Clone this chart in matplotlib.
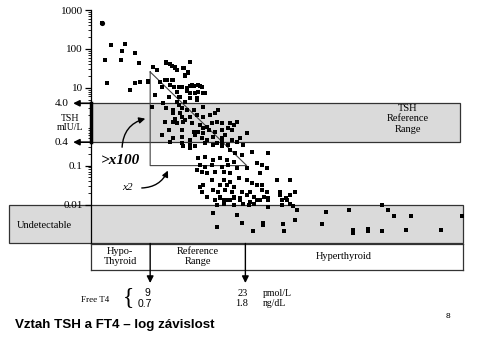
import numpy as np
import matplotlib
matplotlib.use("Agg")
import matplotlib.pyplot as plt
from matplotlib.transforms import blended_transform_factory

# Free T4 (pmol/L) and TSH (mIU/L)
ft4 = [
    1.9, 3.3, 5.3, 4.9, 6.7, 2.4, 4.7, 7.3, 11.4, 11.9, 14.9, 9.4, 10.0, 12.7, 13.0, 14.0, 14.6, 14.1,
    2.7, 6.7, 7.5, 6.1, 8.7, 10.5, 11.5, 12.2, 12.5, 10.7, 13.3, 14.9, 15.4, 16.4, 11.7, 13.2, 14.4,
    16.1, 17.1, 14.9, 15.9,
    11.4, 12.2, 12.7, 13.9, 14.1, 14.6, 8.7, 11.2, 12.4, 11.9, 15.1, 16.1, 16.6, 13.7, 14.4, 15.6,
    12.9, 14.9, 16.8, 9.7, 13.4, 15.9, 14.1, 10.9, 12.9, 13.2, 9.2, 11.4, 12.4, 13.7, 14.4, 15.4,
    16.8, 12.4, 13.4, 12.7, 13.7, 14.1, 14.9, 15.9, 16.8, 17.8, 18.6, 19.0, 11.2, 12.4, 12.9, 13.9,
    15.1, 16.4, 16.8, 17.3, 18.1, 18.8, 19.5, 20.8, 21.8, 21.3, 11.7, 13.7, 15.4, 16.1, 16.8, 17.6,
    18.6, 19.5, 20.5, 21.0, 10.7, 12.4, 13.7, 14.9, 15.6, 16.6, 17.3, 18.3, 19.5, 20.0, 21.0, 22.2,
    23.2, 11.9, 13.7, 14.9, 17.1, 18.8, 19.5, 20.5, 21.8, 22.7,
    13.9, 14.9, 15.6, 18.3, 19.5, 20.8, 21.5, 22.5, 24.0, 26.3, 16.1, 17.1, 18.3, 19.3, 20.3, 21.3,
    24.7, 25.4, 23.2, 16.4, 17.1, 18.1, 19.5, 20.5, 21.8, 15.9, 16.6, 17.3, 18.6, 19.8, 20.8, 25.2,
    26.2, 18.1, 19.8, 20.8, 22.0, 23.2, 27.6, 29.6, 16.4, 16.8, 19.3, 20.3, 21.3, 24.0, 24.7, 25.4,
    16.6, 18.3, 19.0, 20.0, 21.0, 22.5, 23.7, 25.4, 26.2, 28.1, 30.3, 17.3, 19.3, 21.3, 23.2, 24.2,
    25.7, 28.1, 29.6, 18.6, 19.8, 20.8, 22.2, 23.7, 25.2, 26.4, 28.4, 29.1,
    19.3, 20.3, 21.3, 22.2, 24.7, 26.4, 28.9, 18.8, 19.8, 21.3, 22.7, 23.5, 24.2, 26.4, 28.4, 29.6,
    30.0,
    18.3, 18.8, 21.8, 22.5, 24.1, 25.6, 25.6, 28.5, 28.7, 30.3, 30.6, 34.3, 34.8, 38.3, 38.8, 38.8,
    41.1, 41.1, 43.1, 43.9, 44.8, 47.4, 43.1, 46.6, 51.7, 54.8,
]
tsh = [
    471, 128, 134, 90, 77, 52, 52, 43, 47, 41, 47, 35, 29, 35, 28, 32, 26, 20,
    13.1, 13.1, 13.8, 8.8, 15, 14.4, 16, 16, 10.7, 10.7, 10.7, 11.1, 11.1, 11.1, 5.9, 5.7, 8.4,
    7.9, 7.2, 5.4, 5.4,
    43, 36, 32, 32, 21, 24, 14.4, 16, 16, 11.8, 11.8, 11.8, 10.7, 10.7, 9.7, 7.2,
    7.9, 7.2, 7.2, 6.5, 5.9, 4.9, 4.4, 4.0, 4.4, 3.6, 3.3, 3.0, 2.7, 3.0, 2.7, 2.7,
    3.3, 2.2, 2.2, 1.6, 1.8, 1.5, 1.8, 2.0, 1.8, 2.0, 2.2, 2.7, 1.35, 1.35, 1.22, 1.35,
    1.22, 1.1, 0.91, 1.0, 1.22, 1.35, 1.22, 1.22, 1.35, 1.1, 0.82, 0.82, 0.74, 0.74, 0.68, 0.82,
    0.74, 0.82, 0.91, 0.82, 0.61, 0.5, 0.55, 0.45, 0.61, 0.5, 0.45, 0.55, 0.5, 0.61, 0.45, 0.5,
    0.68, 0.41, 0.37, 0.34, 0.37, 0.37, 0.41, 0.34, 0.41, 0.34,
    0.31, 0.28, 0.31, 0.34, 0.31, 0.25, 0.21, 0.19, 0.23, 0.21, 0.154, 0.17, 0.139, 0.154, 0.139, 0.126,
    0.115, 0.104, 0.085, 0.104, 0.094, 0.104, 0.094, 0.104, 0.085, 0.077, 0.070, 0.063, 0.070, 0.070, 0.063, 0.063,
    0.085, 0.043, 0.043, 0.039, 0.047, 0.043, 0.043, 0.043, 0.029, 0.032, 0.032, 0.032, 0.029, 0.035, 0.032, 0.032,
    0.021, 0.024, 0.021, 0.024, 0.021, 0.021, 0.021, 0.024, 0.021, 0.021, 0.021, 0.016, 0.016, 0.016, 0.018, 0.016,
    0.016, 0.018, 0.018, 0.0131, 0.0131, 0.0131, 0.0144, 0.0118, 0.0131, 0.0131, 0.0131, 0.0131,
    0.0144, 0.0131, 0.0144, 0.0131, 0.0131, 0.0144, 0.0144, 0.0097, 0.0103, 0.0097, 0.0103, 0.0097, 0.0103, 0.0088, 0.0097, 0.0103,
    0.0091,
    0.0059, 0.0027, 0.0054, 0.0033, 0.0021, 0.0033, 0.0029, 0.0032, 0.0021, 0.0040, 0.0072, 0.0032, 0.0063, 0.0072, 0.0022, 0.0019,
    0.0024, 0.0021, 0.0097, 0.0072, 0.0051, 0.0052, 0.0021, 0.0022, 0.0022, 0.0052,
]

tsh_ticks = [1000, 100, 10, 0.1, 0.01]
tsh_tick_labels = ["1000", "100", "10", "0.1", "0.01"]
tsh_ref = (0.4, 4.0)
ft4_limits = (9, 23)
categories = ["Hypo-\nThyroid", "Reference\nRange", "Hyperthyroid"]
category_x = [4.6, 16.0, 37.5]

SERIF = ["Liberation Serif", "DejaVu Serif"]
SANS = ["Liberation Sans", "DejaVu Sans"]
GREY = "#dadada"

W, H = 480, 360


def fxy(x, y):
    # pixel position -> figure fraction
    return x / W, 1 - y / H


fig = plt.figure(figsize=(4.8, 3.6), dpi=100)
fig.patch.set_facecolor("white")

ax = fig.add_axes([91 / W, 1 - 243.4 / H, 372 / W, 233.4 / H])
ax.set_yscale("log")
ax.set_xlim(0.3, 55.0)
ax.set_ylim(0.001, 1000)
ax.set_facecolor("none")
for s in ["top", "right", "bottom"]:
    ax.spines[s].set_visible(False)
ax.spines["left"].set_linewidth(0.9)
ax.set_xticks([])
ax.set_yticks(tsh_ticks)
ax.set_yticklabels(tsh_tick_labels, fontfamily=SERIF, fontsize=8)
ax.yaxis.set_minor_locator(matplotlib.ticker.FixedLocator(
    [k * 10.0 ** e for e in range(-2, 3) for k in range(2, 10)]))
ax.yaxis.set_minor_formatter(matplotlib.ticker.NullFormatter())
ax.tick_params(axis="y", which="major", length=4, width=0.9, pad=2)
ax.tick_params(axis="y", which="minor", length=2, width=0.6)

# TSH reference band
ax.axhspan(tsh_ref[0], tsh_ref[1], xmin=0, xmax=0.992, facecolor=GREY,
           edgecolor="#333333", lw=0.9, zorder=0)
ax.plot([0, 0], tsh_ref, color="black", lw=2.5,
        transform=blended_transform_factory(ax.transAxes, ax.transData), clip_on=False)

# undetectable band, reaching out to the left margin
bt = blended_transform_factory(ax.transAxes, ax.transData)
ax.add_patch(plt.Rectangle((-0.22, 0.001), 1.22, 0.009, transform=bt,
                           facecolor=GREY, edgecolor="#333333", lw=0.9,
                           clip_on=False, zorder=0))

# triangle
ax.plot([9, 9, 23.2, 9], [25.6, 0.1, 0.1, 25.6], color="#444444", lw=0.8, zorder=1)

ax.scatter(ft4, tsh, s=6.5, marker="s", color="black", linewidths=0, zorder=3)
ax.scatter(ft4[:1], tsh[:1], s=14, marker="o", color="black", linewidths=0, zorder=3)

# arrows at 4.0 / 0.4
for v in tsh_ref:
    ax.annotate("", xy=(-0.048, v), xytext=(0, v), xycoords=bt, textcoords=bt,
                arrowprops=dict(arrowstyle="-|>", color="black", lw=1.2,
                                mutation_scale=9, shrinkA=0, shrinkB=0),
                annotation_clip=False)
ax.text(-0.06, 4.0, "4.0", transform=bt, ha="right", va="center",
        fontfamily=SERIF, fontsize=8)
ax.text(-0.06, 0.4, "0.4", transform=bt, ha="right", va="center",
        fontfamily=SERIF, fontsize=8)
ax.text(-0.055, 1.25, "TSH\nmIU/L", transform=bt, ha="center", va="center",
        fontfamily=SERIF, fontsize=7, linespacing=1.1)

ax.text(0.852, 1.6, "TSH\nReference\nRange", transform=bt, ha="center", va="center",
        fontfamily=SERIF, fontsize=7.5, linespacing=1.2)
fig.text(*fxy(44, 225), "Undetectable", ha="center", va="center",
         fontfamily=SERIF, fontsize=7.5)

# >x100 and x2 annotations
fig.text(*fxy(120, 160), ">x100", ha="center", va="center", fontfamily=SERIF,
         fontsize=11, fontweight="bold", fontstyle="italic")
fig.text(*fxy(127, 187), "x2", ha="center", va="center", fontfamily=SERIF,
         fontsize=8, fontstyle="italic")
fig.add_artist(matplotlib.patches.FancyArrowPatch(
    fxy(122, 150), fxy(148, 118), transform=fig.transFigure,
    connectionstyle="arc3,rad=-0.4", arrowstyle="-|>", mutation_scale=9,
    color="black", lw=1))
fig.add_artist(matplotlib.patches.FancyArrowPatch(
    fxy(139, 188), fxy(169, 168), transform=fig.transFigure,
    connectionstyle="arc3,rad=0.35", arrowstyle="-|>", mutation_scale=9,
    color="black", lw=1))

# category strip under the axis
ax2 = fig.add_axes([91 / W, 1 - 269.5 / H, 372 / W, 26 / H], sharex=ax)
ax2.set_ylim(0, 1)
ax2.set_xticks([])
ax2.set_yticks([])
for s in ax2.spines.values():
    s.set_linewidth(0.9)
    s.set_color("#333333")
for lim in ft4_limits:
    ax2.annotate("", xy=(lim, -0.52), xytext=(lim, 1),
                 arrowprops=dict(arrowstyle="-|>", color="black", lw=1,
                                 mutation_scale=10, shrinkA=0, shrinkB=0),
                 annotation_clip=False)
for cx, lab in zip(category_x, categories):
    ax2.text(cx, 0.5, lab, ha="center", va="center", fontfamily=SERIF,
             fontsize=7.5, linespacing=1.15)

# Free T4 legend
fig.text(*fxy(95, 300), "Free T4", ha="center", va="center", fontfamily=SERIF, fontsize=6.5)
fig.text(*fxy(128, 298), "{", ha="center", va="center", fontfamily=SERIF, fontsize=17)
fig.text(*fxy(147, 293), "9", ha="center", va="center", fontfamily=SANS, fontsize=7.5)
fig.text(*fxy(145, 304), "0.7", ha="center", va="center", fontfamily=SANS, fontsize=7.5)
fig.text(*fxy(243, 293), "23", ha="center", va="center", fontfamily=SERIF, fontsize=7.5)
fig.text(*fxy(242, 304), "1.8", ha="center", va="center", fontfamily=SERIF, fontsize=7.5)
fig.text(*fxy(263, 293), "pmol/L", ha="left", va="center", fontfamily=SERIF, fontsize=7)
fig.text(*fxy(263, 304), "ng/dL", ha="left", va="center", fontfamily=SERIF, fontsize=7)

fig.text(*fxy(15, 325), "Vztah TSH a FT4 \u2013 log závislost", ha="left", va="center",
         fontfamily=SANS, fontsize=9.6, fontweight="bold")
fig.text(*fxy(448, 317), "8", ha="center", va="center", fontfamily=SANS, fontsize=6)

fig.savefig("out.png", dpi=100)
